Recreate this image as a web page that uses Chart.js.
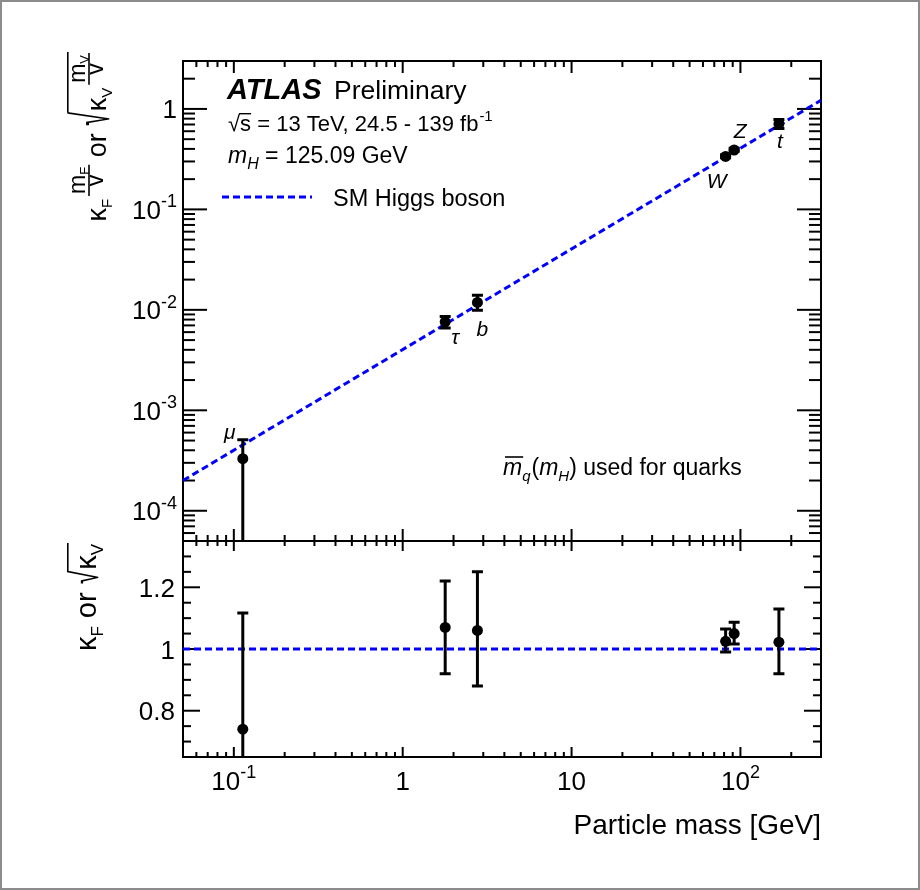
<!DOCTYPE html>
<html><head><meta charset="utf-8">
<script src="https://cdn.jsdelivr.net/npm/chart.js@4.4.1/dist/chart.umd.min.js"></script>
<style>html,body{margin:0;padding:0;background:#fff;} canvas{display:block;}</style>
</head><body>
<canvas id="c" width="920" height="890"></canvas>
<script>
// ---- data ----
const particles = ['μ', 'τ', 'b', 'W', 'Z', 't'];
const particleMass = [0.113, 1.785, 2.77, 81.7, 91.8, 169];
const coupling = [3.3e-4, 7.6e-3, 1.185e-2, 0.337, 0.39, 0.709];
const couplingLow = [1e-6, 6.6e-3, 9.9e-3, 0.327, 0.38, 0.64];
const couplingHigh = [5.1e-4, 8.6e-3, 1.40e-2, 0.35, 0.405, 0.785];
const kappa = [0.74, 1.07, 1.06, 1.025, 1.05, 1.022];
const kappaLow = [0.0, 0.92, 0.88, 0.99, 1.016, 0.92];
const kappaHigh = [1.117, 1.22, 1.25, 1.065, 1.087, 1.13];
const smMass = [0.05, 300];
const smCoupling = [2.0e-4, 1.22];
const smKappa = [1, 1];
const xTicks = [0.1, 1, 10, 100];
const xTickLabels = [['10', '-1'], ['1', ''], ['10', ''], ['10', '2']];
const yTopTicks = [1e-4, 1e-3, 1e-2, 1e-1, 1];
const yTopTickLabels = [['10', '-4'], ['10', '-3'], ['10', '-2'], ['10', '-1'], ['1', '']];
const yRatioTicks = [0.8, 1, 1.2];
const yRatioTickLabels = ['0.8', '1', '1.2'];

// ---- styling ----
const FF = '"Liberation Sans", Arial, Helvetica, sans-serif';
const BLUE = '#0000ff';
const labelOffsets = [[-13, -26], [10, 16], [5, 28], [-9, 26], [6, -18], [1, 18]];

function setFont(ctx, size, style) { ctx.font = ((style || '') + ' ' + size + 'px ' + FF).trim(); }

function drawErrors(ctx, chart, yId, vals, lo, hi) {
  const xs = chart.scales.x, ys = chart.scales[yId];
  ctx.save();
  ctx.beginPath();
  ctx.rect(xs.left, ys.top, xs.right - xs.left, ys.bottom - ys.top);
  ctx.clip();
  ctx.strokeStyle = '#000';
  ctx.lineWidth = 3;
  for (let i = 0; i < vals.length; i++) {
    const px = xs.getPixelForValue(particleMass[i]);
    const pl = ys.getPixelForValue(lo[i]);
    const ph = ys.getPixelForValue(hi[i]);
    ctx.beginPath(); ctx.moveTo(px, pl); ctx.lineTo(px, ph); ctx.stroke();
    ctx.beginPath(); ctx.moveTo(px - 5.5, pl); ctx.lineTo(px + 5.5, pl);
    ctx.moveTo(px - 5.5, ph); ctx.lineTo(px + 5.5, ph); ctx.stroke();
  }
  ctx.restore();
}

function line(ctx, x1, y1, x2, y2) { ctx.beginPath(); ctx.moveTo(x1, y1); ctx.lineTo(x2, y2); ctx.stroke(); }

// radical sign: real glyph, stretched along the text's vertical direction
function sqrtGlyph(ctx, u, topDv, botDv, draw) {
  ctx.textAlign = 'left';
  setFont(ctx, 25, '');
  const m = ctx.measureText('√');
  const asc = m.actualBoundingBoxAscent, h = asc + m.actualBoundingBoxDescent;
  const f = (botDv - topDv) / h;
  if (draw) {
    ctx.save();
    ctx.translate(u, topDv);
    ctx.scale(1, f);
    ctx.fillText('√', 0, asc);
    ctx.restore();
  }
  return u + m.actualBoundingBoxRight - 0.5;
}

function composeTitle(ctx, draw, spec) {
  let u = 0;
  ctx.textAlign = 'left';
  const txt = (t, size, style, dv) => { setFont(ctx, size, style); const w = ctx.measureText(t).width; if (draw) ctx.fillText(t, u, dv); u += w; };
  const widthOf = (parts) => parts.reduce((s, p) => { setFont(ctx, p[1], p[2]); return s + ctx.measureText(p[0]).width; }, 0);
  const frac = (num, den, numDv, barDv, denDv) => {
    const wn = widthOf(num), wd = widthOf(den);
    const W = Math.max(wn, wd) + 4;
    if (draw) {
      let a = u + (W - wn) / 2;
      num.forEach(p => { setFont(ctx, p[1], p[2]); ctx.fillText(p[0], a, numDv + p[3]); a += ctx.measureText(p[0]).width; });
      let b = u + (W - wd) / 2;
      den.forEach(p => { setFont(ctx, p[1], p[2]); ctx.fillText(p[0], b, denDv + p[3]); b += ctx.measureText(p[0]).width; });
      ctx.lineWidth = 1.6; line(ctx, u, barDv, u + W, barDv);
    }
    u += W;
  };
  spec(txt, frac, () => u, (v) => { u = v; });
}

function drawRotTitle(ctx, bx, endY, spec) {
  let total = 0;
  composeTitle(ctx, false, (txt, frac, getU, setU) => { spec(txt, frac, getU, setU, false); total = getU(); });
  ctx.save();
  ctx.translate(bx, endY + total);
  ctx.rotate(-Math.PI / 2);
  ctx.fillStyle = '#000'; ctx.strokeStyle = '#000';
  ctx.textBaseline = 'alphabetic'; ctx.textAlign = 'left';
  composeTitle(ctx, true, (txt, frac, getU, setU) => spec(txt, frac, getU, setU, true));
  ctx.restore();
}

const decor = {
  id: 'decor',
  beforeDraw(chart) {
    const ctx = chart.ctx;
    ctx.save(); ctx.fillStyle = '#fff'; ctx.fillRect(0, 0, chart.width, chart.height); ctx.restore();
  },
  beforeDatasetsDraw(chart) {
    // frames and ticks under the data
    const ctx = chart.ctx;
    const xs = chart.scales.x, yt = chart.scales.y, yb = chart.scales.yr;
    const L = xs.left, R = xs.right;
    ctx.save();
    ctx.strokeStyle = '#000'; ctx.lineWidth = 2;
    ctx.strokeRect(L, yt.top, R - L, yt.bottom - yt.top);
    ctx.strokeRect(L, yb.top, R - L, yb.bottom - yb.top);
    for (let d = -2; d <= 2; d++) {
      for (let k = 1; k <= 9; k++) {
        const v = k * Math.pow(10, d);
        if (v < 0.05 * 0.999 || v > 300 * 1.001) continue;
        const px = xs.getPixelForValue(v);
        const major = k === 1;
        const lt = major ? 12 : 6, lb = major ? 10 : 5;
        line(ctx, px, yt.top, px, yt.top + lt);
        line(ctx, px, yt.bottom, px, yt.bottom - lt);
        line(ctx, px, yb.top, px, yb.top + lb);
        line(ctx, px, yb.bottom, px, yb.bottom - lb);
      }
    }
    for (let d = -5; d <= 0; d++) {
      for (let k = 1; k <= 9; k++) {
        const v = k * Math.pow(10, d);
        if (v < 5e-5 * 0.999 || v > 3 * 1.001) continue;
        const py = yt.getPixelForValue(v);
        const len = k === 1 ? 24 : 12;
        line(ctx, L, py, L + len, py);
        line(ctx, R, py, R - len, py);
      }
    }
    for (let i = 13; i <= 27; i++) {
      const v = i * 0.05;
      const py = yb.getPixelForValue(v);
      const len = i % 4 === 0 ? 17 : 8;
      line(ctx, L, py, L + len, py);
      line(ctx, R, py, R - len, py);
    }
    ctx.restore();
  },
  beforeDatasetDraw(chart, args) {
    const ctx = chart.ctx;
    if (args.index === 2) drawErrors(ctx, chart, 'y', coupling, couplingLow, couplingHigh);
    if (args.index === 3) drawErrors(ctx, chart, 'yr', kappa, kappaLow, kappaHigh);
  },
  afterDraw(chart) {
    const ctx = chart.ctx;
    const xs = chart.scales.x, yt = chart.scales.y, yb = chart.scales.yr;
    const R = xs.right;
    ctx.save();
    // page border
    ctx.strokeStyle = '#8c8c8c'; ctx.lineWidth = 2;
    ctx.strokeRect(1, 1, chart.width - 2, chart.height - 2);
    ctx.strokeStyle = '#000';
    ctx.fillStyle = '#000';
    ctx.textBaseline = 'alphabetic';
    // x tick labels
    xTicks.forEach((v, i) => {
      const px = xs.getPixelForValue(v);
      const [a, b] = xTickLabels[i];
      ctx.textAlign = 'left';
      setFont(ctx, 26, ''); const w1 = ctx.measureText(a).width;
      setFont(ctx, 18, ''); const w2 = b ? ctx.measureText(b).width : 0;
      const s = px - (w1 + w2) / 2;
      setFont(ctx, 26, ''); ctx.fillText(a, s, 790);
      if (b) { setFont(ctx, 18, ''); ctx.fillText(b, s + w1, 778); }
    });
    // y top tick labels
    yTopTicks.forEach((v, i) => {
      const py = yt.getPixelForValue(v);
      const [a, b] = yTopTickLabels[i];
      ctx.textAlign = 'left';
      setFont(ctx, 18, ''); const w2 = b ? ctx.measureText(b).width : 0;
      setFont(ctx, 26, ''); const w1 = ctx.measureText(a).width;
      const right = 177;
      ctx.fillText(a, right - w2 - w1, py + 9.5);
      if (b) { setFont(ctx, 18, ''); ctx.fillText(b, right - w2, py - 2); }
    });
    // ratio tick labels
    ctx.textAlign = 'right';
    setFont(ctx, 26, '');
    yRatioTicks.forEach((v, i) => {
      const py = yb.getPixelForValue(v);
      ctx.fillText(yRatioTickLabels[i], 175, py + 9.5);
    });
    // x title
    ctx.textAlign = 'right';
    setFont(ctx, 28, '');
    ctx.fillText('Particle mass [GeV]', R, 834);

    // y titles
    drawRotTitle(ctx, 106, 52, (txt, frac, getU, setU, draw) => {
      txt('κ', 27, '', 0); txt('F', 15, '', 6); setU(getU() + 3);
      frac([['m', 23, '', 0], ['F', 13, '', 4]], [['v', 23, '', 0]], -21, -17, -3);
      txt(' or ', 27, '', 0);
      const r = sqrtGlyph(ctx, getU(), -39, 5, draw);
      setU(r + 1);
      txt('κ', 27, '', 0); txt('V', 15, '', 6); setU(getU() + 3);
      frac([['m', 23, '', 0], ['V', 13, '', 4]], [['v', 23, '', 0]], -21, -17, -3);
      if (draw) { ctx.lineWidth = 1.6; line(ctx, r - 0.5, -38.2, getU() + 1, -38.2); }
      setU(getU() + 1);
    });
    drawRotTitle(ctx, 96, 543, (txt, frac, getU, setU, draw) => {
      txt('κ', 29, '', 0); txt('F', 17, '', 7);
      txt(' or ', 29, '', 0);
      const r = sqrtGlyph(ctx, getU(), -29, 4, draw);
      setU(r + 1);
      txt('κ', 29, '', 0); txt('V', 17, '', 7);
      if (draw) { ctx.lineWidth = 1.6; line(ctx, r - 0.5, -28.2, getU() + 1, -28.2); }
      setU(getU() + 1);
    });

    // ATLAS label block
    ctx.textAlign = 'left';
    setFont(ctx, 29, 'italic bold'); ctx.fillText('ATLAS', 227, 99);
    setFont(ctx, 26.5, ''); ctx.fillText('Preliminary', 334, 99);
    // sqrt(s) line
    let x = 228;
    setFont(ctx, 22, '');
    const ms = ctx.measureText('√');
    ctx.fillText('√', x, 131);
    const sx = x + ms.width;
    const wS = ctx.measureText('s').width;
    ctx.fillText('s', sx, 131);
    ctx.lineWidth = 1.4; line(ctx, sx - 1, 131 - ms.actualBoundingBoxAscent + 0.7, sx + wS, 131 - ms.actualBoundingBoxAscent + 0.7);
    x = sx + wS;
    const rest = ' = 13 TeV, 24.5 - 139 fb';
    ctx.fillText(rest, x, 131); x += ctx.measureText(rest).width;
    setFont(ctx, 15, ''); ctx.fillText('-1', x + 1, 121);
    // m_H line
    x = 228;
    setFont(ctx, 23, 'italic'); ctx.fillText('m', x, 163); x += ctx.measureText('m').width;
    setFont(ctx, 16, 'italic'); ctx.fillText('H', x, 169); x += ctx.measureText('H').width;
    setFont(ctx, 23, ''); ctx.fillText(' = 125.09 GeV', x, 163);
    // legend
    ctx.strokeStyle = BLUE; ctx.lineWidth = 3; ctx.setLineDash([7, 4]);
    line(ctx, 222, 197, 312, 197);
    ctx.setLineDash([]);
    ctx.strokeStyle = '#000';
    setFont(ctx, 23.5, ''); ctx.fillText('SM Higgs boson', 333, 206);
    // quark mass note
    x = 503;
    const qb = 475;
    setFont(ctx, 23, 'italic'); const wm = ctx.measureText('m').width;
    ctx.fillText('m', x, qb);
    ctx.lineWidth = 1.6; line(ctx, x + 2, qb - 18, x + wm + 1, qb - 18);
    x += wm;
    setFont(ctx, 15, 'italic'); ctx.fillText('q', x, qb + 6); x += ctx.measureText('q').width + 1;
    setFont(ctx, 23, ''); ctx.fillText('(', x, qb); x += ctx.measureText('(').width;
    setFont(ctx, 23, 'italic'); ctx.fillText('m', x, qb); x += ctx.measureText('m').width;
    setFont(ctx, 15, 'italic'); ctx.fillText('H', x, qb + 6); x += ctx.measureText('H').width;
    setFont(ctx, 23, ''); ctx.fillText(') used for quarks', x, qb);
    // particle labels
    ctx.textAlign = 'center'; ctx.textBaseline = 'middle';
    setFont(ctx, 21, 'italic');
    particles.forEach((p, i) => {
      const px = xs.getPixelForValue(particleMass[i]);
      const py = yt.getPixelForValue(coupling[i]);
      ctx.fillText(p, px + labelOffsets[i][0], py + labelOffsets[i][1]);
    });
    ctx.restore();
  }
};

const toPts = (xsArr, ysArr) => xsArr.map((m, i) => ({ x: m, y: ysArr[i] }));

new Chart(document.getElementById('c'), {
  type: 'scatter',
  data: {
    datasets: [
      { data: toPts(smMass, smCoupling), xAxisID: 'x', yAxisID: 'y', showLine: true, borderColor: BLUE, borderWidth: 3, borderDash: [7, 4], pointRadius: 0, fill: false, order: 3 },
      { data: toPts(smMass, smKappa), xAxisID: 'x', yAxisID: 'yr', showLine: true, borderColor: BLUE, borderWidth: 3, borderDash: [7, 4], pointRadius: 0, fill: false, order: 3 },
      { data: toPts(particleMass, coupling), xAxisID: 'x', yAxisID: 'y', showLine: false, pointRadius: 5.5, pointBackgroundColor: '#000', pointBorderColor: '#000', pointBorderWidth: 0, order: 1 },
      { data: toPts(particleMass, kappa), xAxisID: 'x', yAxisID: 'yr', showLine: false, pointRadius: 5.5, pointBackgroundColor: '#000', pointBorderColor: '#000', pointBorderWidth: 0, order: 1 }
    ]
  },
  options: {
    responsive: false, animation: false, devicePixelRatio: 1, events: [],
    layout: { padding: { left: 0, right: 99, top: 61, bottom: 0 } },
    plugins: { legend: { display: false }, tooltip: { enabled: false } },
    scales: {
      x: { type: 'logarithmic', position: 'bottom', min: 0.05, max: 300, grid: { display: false }, border: { display: false }, ticks: { display: false }, afterFit(s) { s.height = 133; } },
      yr: { type: 'linear', position: 'left', stack: 'v', stackWeight: 216, weight: 0, min: 0.65, max: 1.35, grid: { display: false }, border: { display: false }, ticks: { display: false }, afterFit(s) { s.width = 183; } },
      y: { type: 'logarithmic', position: 'left', stack: 'v', stackWeight: 480, weight: 1, min: 5e-5, max: 3, grid: { display: false }, border: { display: false }, ticks: { display: false }, afterFit(s) { s.width = 183; } }
    }
  },
  plugins: [decor]
});
</script>
</body></html>
